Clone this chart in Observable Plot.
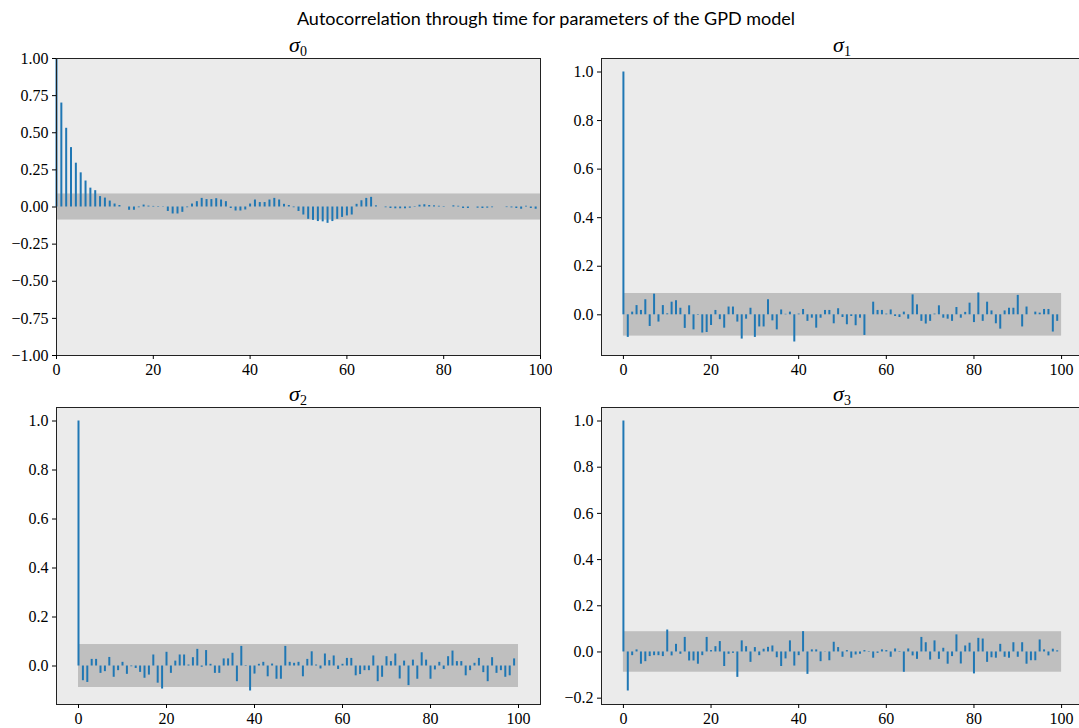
<!DOCTYPE html>
<html>
<head>
<meta charset="utf-8">
<script src="https://cdn.jsdelivr.net/npm/d3@7"></script>
<script src="https://cdn.jsdelivr.net/npm/@observablehq/plot@0.6"></script>
<style>
  html, body { margin: 0; padding: 0; background: #ffffff; }
  #fig { position: relative; width: 1079px; height: 728px; overflow: hidden; background: #ffffff; }
  .suptitle { position: absolute; left: 0; width: 1092px; top: 7px; text-align: center;
              font-family: Lato, "Open Sans", sans-serif; font-size: 18px; color: #000; }
  .ptitle { position: absolute; text-align: center; font-family: "Liberation Serif", serif;
            font-size: 22px; color: #000; line-height: 1; }
  .ptitle i { font-style: italic; }
  .ptitle sub { font-size: 14px; vertical-align: -4px; font-style: normal; }
  .panel { position: absolute; }
  .panel svg { max-width: none !important; }
</style>
</head>
<body>
<div id="fig"></div>
<script>
// ---------------- data ----------------
const lags = d3.range(100);

const acfSigma0 = [
  1.0, 0.70, 0.53, 0.40, 0.295, 0.23, 0.175, 0.127, 0.11, 0.07,
  0.06, 0.04, 0.02, 0.01, 0.0, -0.022, -0.022, -0.005, 0.013, 0.006,
  0.004, -0.003, 0.002, -0.03, -0.047, -0.047, -0.036, -0.005, 0.02, 0.036,
  0.058, 0.05, 0.05, 0.056, 0.047, 0.036, -0.01, -0.027, -0.027, -0.02,
  0.02, 0.047, 0.03, 0.03, 0.047, 0.058, 0.047, 0.018, 0.01, -0.005,
  -0.03, -0.054, -0.083, -0.09, -0.098, -0.1, -0.11, -0.098, -0.083, -0.07,
  -0.06, -0.054, 0.018, 0.042, 0.058, 0.065, 0.008, 0.0, -0.005, -0.01,
  -0.012, -0.012, -0.012, -0.008, 0.003, 0.012, 0.015, 0.01, 0.008, 0.005,
  -0.003, 0.0, 0.008, 0.005, -0.01, -0.01, 0.0, -0.008, -0.01, -0.008,
  -0.005, 0.0, 0.0, -0.004, -0.006, -0.01, -0.015, 0.005, -0.01, -0.015
];

const acfSigma1 = [
  1.0, -0.093, 0.011, 0.038, 0.018, 0.062, -0.048, 0.085, -0.03, 0.038,
  0.004, 0.052, 0.058, 0.027, -0.056, 0.037, -0.062, -0.002, -0.075, -0.073,
  -0.044, 0.018, -0.02, -0.055, 0.032, 0.032, -0.03, -0.1, -0.018, 0.027,
  -0.093, -0.05, -0.05, 0.062, -0.025, -0.062, 0.02, 0.002, 0.011, -0.112,
  0.003, 0.022, -0.027, -0.014, -0.055, -0.014, 0.018, 0.018, -0.037, 0.025,
  -0.011, -0.041, -0.007, -0.045, -0.014, -0.085, 0.0, 0.052, 0.018, 0.018,
  0.003, 0.02, -0.007, -0.011, 0.011, -0.018, 0.082, 0.041, -0.027, -0.038,
  -0.027, 0.003, 0.037, -0.014, -0.018, -0.027, 0.03, -0.014, 0.01, 0.048,
  -0.032, 0.09, -0.027, 0.052, 0.016, -0.037, -0.059, 0.016, 0.027, 0.027,
  0.08, -0.05, 0.032, 0.0, 0.011, 0.007, 0.022, 0.022, -0.071, -0.027
];

const acfSigma2 = [
  1.0, -0.06, -0.067, 0.027, 0.027, -0.03, -0.023, 0.035, -0.046, -0.019,
  0.015, -0.034, -0.003, -0.01, -0.026, -0.05, -0.037, 0.045, -0.07, -0.094,
  0.056, -0.03, 0.02, 0.045, 0.045, 0.004, 0.034, 0.068, -0.005, 0.063,
  0.007, -0.03, -0.03, 0.029, 0.029, 0.052, -0.064, 0.08, -0.002, -0.102,
  -0.033, 0.007, 0.015, -0.044, 0.008, -0.054, -0.054, 0.08, 0.015, 0.011,
  0.015, -0.044, 0.027, 0.058, 0.004, -0.012, 0.049, 0.022, 0.041, -0.014,
  0.007, 0.031, 0.031, -0.04, -0.035, -0.019, -0.019, 0.041, -0.064, -0.046,
  0.038, 0.018, 0.049, -0.053, 0.02, -0.08, 0.024, -0.054, 0.054, 0.024,
  -0.054, -0.016, 0.015, -0.014, 0.038, 0.061, 0.018, 0.018, -0.04, -0.019,
  0.011, 0.031, -0.027, -0.064, 0.034, -0.03, -0.019, -0.046, -0.04, 0.029
];

const acfSigma3 = [
  1.0, -0.169, -0.016, 0.009, -0.053, -0.042, -0.02, -0.016, -0.016, -0.02,
  0.095, -0.017, 0.033, -0.01, 0.063, -0.039, -0.039, -0.053, -0.016, 0.063,
  0.006, 0.023, 0.045, -0.063, -0.01, -0.006, -0.11, 0.048, 0.023, -0.045,
  0.019, -0.016, 0.012, 0.02, 0.026, -0.025, -0.063, -0.03, 0.048, -0.061,
  -0.016, 0.088, -0.097, 0.009, 0.009, -0.042, -0.001, -0.038, 0.042, 0.019,
  -0.023, 0.006, -0.027, -0.013, -0.01, 0.006, -0.002, -0.027, -0.006, 0.009,
  0.006, -0.023, 0.013, -0.002, -0.088, 0.013, -0.017, -0.032, 0.063, 0.04,
  -0.035, 0.048, -0.032, 0.016, -0.053, -0.02, 0.074, -0.052, 0.026, 0.038,
  -0.095, 0.059, 0.056, -0.045, -0.025, -0.027, 0.033, -0.023, -0.027, 0.04,
  -0.023, 0.04, -0.053, -0.038, -0.038, 0.052, 0.009, -0.017, 0.012, 0.005
];

// confidence band: +/- 1.96/sqrt(n) over lags [0, 100]
const confBound = 0.0877;
const bandLagRange = [0, 100];

const xTickValues = [0, 20, 40, 60, 80, 100];
const yTicksWide = [-1.0, -0.75, -0.5, -0.25, 0.0, 0.25, 0.5, 0.75, 1.0];
const yTicksNarrow = [-0.2, 0.0, 0.2, 0.4, 0.6, 0.8, 1.0];

const titleText = "Autocorrelation through time for parameters of the GPD model";
const panelIndex = ["0", "1", "2", "3"];

// ---------------- layout ----------------
const frames = [
  {left: 56, right: 540, top: 58, bottom: 355},
  {left: 601, right: 1083, top: 58, bottom: 355},
  {left: 56, right: 540, top: 407, bottom: 704},
  {left: 601, right: 1083, top: 407, bottom: 704}
];
const series = [acfSigma0, acfSigma1, acfSigma2, acfSigma3];

const fig = document.getElementById("fig");
const sup = document.createElement("div");
sup.className = "suptitle";
sup.textContent = titleText;
fig.appendChild(sup);

const mL = 52, mR = 12, mT = 10, mB = 30;
const tickFont = {fontFamily: "Liberation Serif", fontSize: 16, fill: "#000"};

function autoDomain(vals, lo, hi) {
  const mn = Math.min(d3.min(vals), lo), mx = Math.max(d3.max(vals), hi);
  const pad = (mx - mn) * 0.05;
  return [mn - pad, mx + pad];
}

series.forEach((vals, i) => {
  const f = frames[i];
  const data = lags.map((l, j) => ({lag: l, acf: vals[j]}));
  const first = i === 0;
  const xDomain = first ? [0, 100] : autoDomain(bandLagRange, bandLagRange[0], bandLagRange[1]);
  const yDomain = first ? [-1, 1] : autoDomain(vals, -confBound, confBound);
  const yTicks = (first ? yTicksWide : yTicksNarrow).filter(t => t >= yDomain[0] - 1e-9 && t <= yDomain[1] + 1e-9);
  const fmt = first ? d3.format(".2f") : d3.format(".1f");
  const W = (f.right - f.left) + mL + mR;

  const chart = Plot.plot({
    width: W,
    height: (f.bottom - f.top) + mT + mB,
    marginLeft: mL, marginRight: mR, marginTop: mT, marginBottom: mB,
    style: {background: "transparent", color: "#000", maxWidth: "none"},
    x: {domain: xDomain},
    y: {domain: yDomain},
    marks: [
      Plot.frame({fill: "#ebebeb", stroke: null}),
      Plot.rect([{x1: bandLagRange[0], x2: bandLagRange[1], y1: -confBound, y2: confBound}],
        {x1: "x1", x2: "x2", y1: "y1", y2: "y2", fill: "#bfbfbf"}),
      Plot.ruleX(data, {x: "lag", y1: 0, y2: "acf", stroke: "#1f77b4", strokeWidth: 2}),
      Plot.frame({stroke: "#222", strokeWidth: 1}),
      Plot.axisX({ticks: xTickValues, tickSize: 4, tickPadding: 4, tickFormat: d3.format("d"), label: null, ...tickFont}),
      Plot.axisY({ticks: yTicks, tickSize: 4, tickPadding: 4, tickFormat: fmt, label: null, ...tickFont})
    ]
  });
  const wrap = document.createElement("div");
  wrap.className = "panel";
  wrap.style.left = (f.left - mL) + "px";
  wrap.style.top = (f.top - mT) + "px";
  wrap.style.width = W + "px";
  wrap.appendChild(chart);
  fig.appendChild(wrap);

  const t = document.createElement("div");
  t.className = "ptitle";
  t.style.left = f.left + "px";
  t.style.width = (f.right - f.left) + "px";
  t.style.top = (f.top - 24) + "px";
  t.innerHTML = "<i>σ</i><sub>" + panelIndex[i] + "</sub>";
  fig.appendChild(t);
});
</script>
</body>
</html>
